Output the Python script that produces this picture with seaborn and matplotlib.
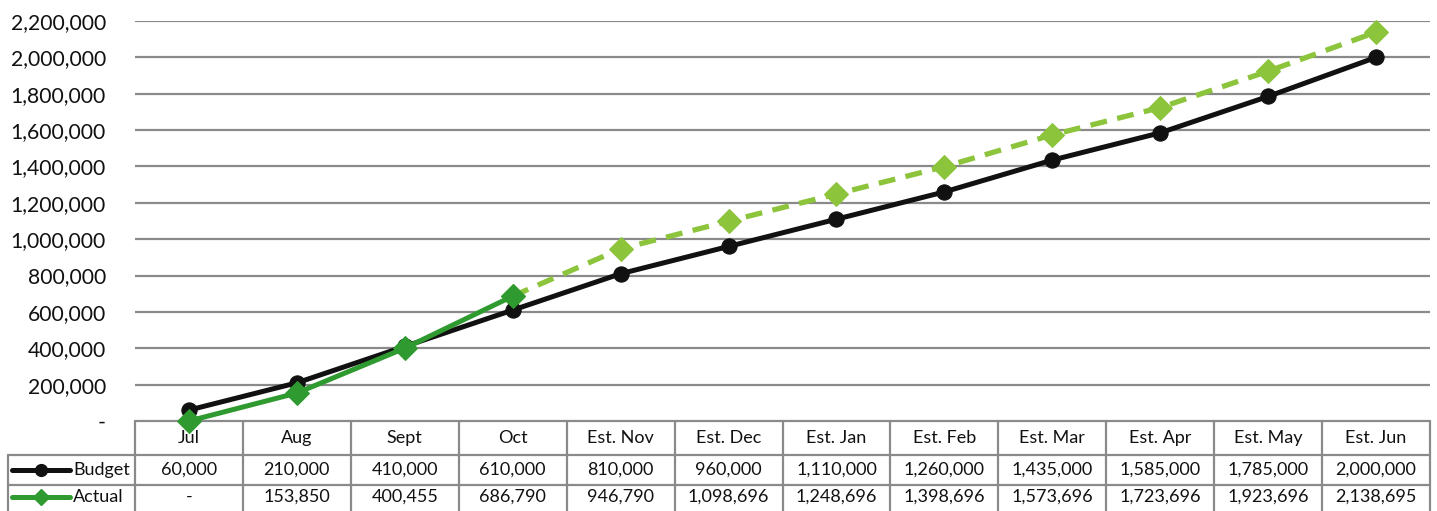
import numpy as np
import pandas as pd
import matplotlib
matplotlib.use("Agg")
import matplotlib.pyplot as plt
import seaborn as sns
from matplotlib.ticker import FuncFormatter
from matplotlib.lines import Line2D

categories = ["Jul", "Aug", "Sept", "Oct", "Est. Nov", "Est. Dec", "Est. Jan",
              "Est. Feb", "Est. Mar", "Est. Apr", "Est. May", "Est. Jun"]
budget = [60000, 210000, 410000, 610000, 810000, 960000, 1110000,
          1260000, 1435000, 1585000, 1785000, 2000000]
actual = [0, 153850, 400455, 686790, 946790, 1098696, 1248696,
          1398696, 1573696, 1723696, 1923696, 2138695]
n_actual_real = 4  # Jul..Oct are actuals, rest are estimates
yticks = list(range(0, 2200001, 200000))

sns.set_theme(style="white")
plt.rcParams['font.family'] = ['Lato', 'DejaVu Sans']

BLACK = "#111111"
DGREEN = "#2f9a2f"
LGREEN = "#8cc43c"
GRID = "#8a8a8a"

fig = plt.figure(figsize=(14.37, 5.11), dpi=100)
W, H = 1437, 511
ax = fig.add_axes([135 / W, (511 - 421) / H, (1430 - 135) / W, (421 - 21) / H])

df = pd.DataFrame({"idx": np.arange(len(categories)), "cat": categories,
                   "Budget": budget, "Actual": actual})
real = df.iloc[:n_actual_real]
est = df.iloc[n_actual_real - 1:]

sns.lineplot(data=est, x="idx", y="Actual", ax=ax, color=LGREEN, lw=3.8,
             linestyle=(0, (3.2, 2.0)), marker="D", markersize=12.5,
             markeredgecolor=LGREEN, zorder=3, clip_on=False)
sns.lineplot(data=df, x="idx", y="Budget", ax=ax, color=BLACK, lw=3.6,
             marker="o", markersize=11, markeredgecolor=BLACK, zorder=4,
             clip_on=False)
sns.lineplot(data=real, x="idx", y="Actual", ax=ax, color=DGREEN, lw=3.6,
             marker="D", markersize=12.5, markeredgecolor=DGREEN, zorder=5,
             clip_on=False)

ax.set_xlim(-0.5, len(categories) - 0.5)
ax.set_ylim(0, 2200000)
ax.set_yticks(yticks)
ax.yaxis.set_major_formatter(FuncFormatter(
    lambda v, p: "-" if v == 0 else f"{int(v):,}"))
ax.tick_params(axis="y", length=0, pad=21, labelsize=15.2, labelcolor="#111111")
ax.set_xticks([])
ax.set_xlabel("")
ax.set_ylabel("")
for s in ax.spines.values():
    s.set_visible(False)
for t in yticks[1:]:
    ax.axhline(t, color=GRID, lw=1.6, zorder=1)

# data table below the plot
tr = ax.get_xaxis_transform()
ncol = len(categories)
left = -0.5 - 127 / 107.9
y0, y1, y2, y3 = 0.0, -0.085, -0.16, -0.26
tkw = dict(transform=tr, color=GRID, lw=1.6, clip_on=False, zorder=2)
ax.plot([-0.5, ncol - 0.5], [y0, y0], **tkw)
ax.plot([left, ncol - 0.5], [y1, y1], **tkw)
ax.plot([left, ncol - 0.5], [y2, y2], **tkw)
for k in range(ncol + 1):
    ax.plot([k - 0.5, k - 0.5], [y0, y3], **tkw)
ax.plot([left, left], [y1, y3], **tkw)

fs = 13
for i, c in enumerate(categories):
    ax.text(i, (y0 + y1) / 2, c, transform=tr, ha="center", va="center",
            fontsize=fs, color="#111111", clip_on=False)
    ax.text(i, (y1 + y2) / 2, f"{budget[i]:,}", transform=tr, ha="center",
            va="center", fontsize=fs, color="#111111", clip_on=False)
    ax.text(i, -0.19, "-" if actual[i] == 0 else f"{actual[i]:,}",
            transform=tr, ha="center", va="center", fontsize=fs,
            color="#111111", clip_on=False)

# legend keys inside the table
def key(yc, color, marker, label):
    xa = left + 4 / 107.9
    xb = left + 62 / 107.9
    ax.add_line(Line2D([xa, xb], [yc, yc], transform=tr, color=color, lw=3.6,
                       clip_on=False))
    ax.add_line(Line2D([(xa + xb) / 2], [yc], transform=tr, color=color,
                       marker=marker, markersize=8.5, clip_on=False))
    ax.text(xb + 3 / 107.9, yc, label, transform=tr, ha="left", va="center",
            fontsize=fs, color="#111111", clip_on=False)

key((y1 + y2) / 2, BLACK, "o", "Budget")
key(-0.19, DGREEN, "D", "Actual")

fig.savefig("out.png", dpi=100)
